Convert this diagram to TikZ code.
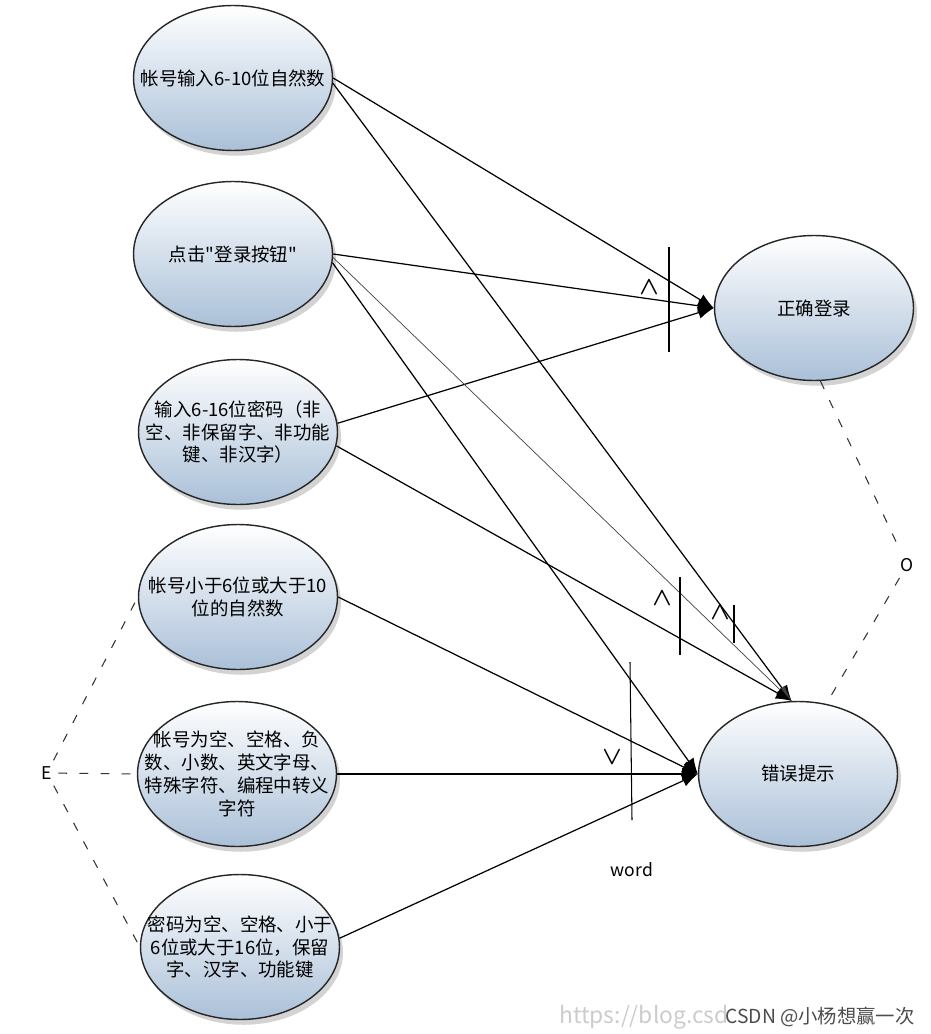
\documentclass[tikz,border=0pt]{standalone}
\usepackage{fontspec}
\setmainfont{Noto Sans CJK SC}
\newfontfamily\cjk{Noto Sans CJK SC}
\usetikzlibrary{shapes.geometric,shadows,arrows.meta}
\definecolor{caseblue}{RGB}{170,192,216}

\tikzset{
    uc case/.style={ellipse, draw=black!85, line width=0.8pt,
                    minimum width=3.98cm, minimum height=2.9cm, inner sep=0pt,
                    top color=white, bottom color=caseblue,
                    drop shadow={opacity=0.35, shadow xshift=2pt, shadow yshift=-3pt}},
    uc text/.style={align=center, font=\cjk\fontsize{10.5}{13}\selectfont},
    uc link/.style={-{Latex[length=9pt,width=7pt]}, line width=0.7pt, black},
    uc thin/.style={uc link, line width=0.4pt, black!75},
    uc dep/.style={dash pattern=on 5pt off 7pt, line width=0.6pt, black!80},
    uc mark/.style={line width=0.6pt},
    uc label/.style={font=\cjk\fontsize{10}{12}\selectfont},
    uc logic/.style={font=\fontsize{14}{16}\selectfont\boldmath},
}

\begin{document}
\begin{tikzpicture}[x=0.02cm, y=-0.02cm]
    \useasboundingbox (0,0) rectangle (930,1034);
    % Use cases, left column
    \node[uc case, label={[uc text]center:帐号输入6-10位自然数}] (e1) at (233,78) {};
    \node[uc case, label={[uc text]center:点击"登录按钮"}] (e2) at (233,254) {};
    \node[uc case, label={[uc text]center:{输入6-16位密码（非\\空、非保留字、非功能\\键、非汉字）}}] (e3) at (238,432) {};
    \node[uc case, label={[uc text]center:{帐号小于6位或大于10\\位的自然数}}] (e4) at (238,597) {};
    \node[uc case, label={[uc text]center:{帐号为空、空格、负\\数、小数、英文字母、\\特殊字符、编程中转义\\字符}}] (e5) at (237,774) {};
    \node[uc case, label={[uc text]center:{密码为空、空格、小于\\6位或大于16位，保留\\字、汉字、功能键}}] (e6) at (240,947) {};
    % Results, right column
    \node[uc case, label={[uc text]center:正确登录}] (ok) at (814,308) {};
    \node[uc case, label={[uc text]center:错误提示}] (err) at (798,774) {};

    % Links into the correct login
    \draw[uc link] (e1.east) -- (ok.west);
    \draw[uc link] (e2.east) -- (ok.west);
    \draw[uc link] (e3.5) -- (ok.west);
    % Links into the error, from above
    \draw[uc link] (e1.-3) -- (err.95);
    \draw[uc thin] (e2.-2) -- (err.95);
    \draw[uc link] (e3.-8) -- (err.95);
    % Links into the error, from the left
    \draw[uc link] (e2.-5) -- (err.west);
    \draw[uc link] (e4.east) -- (err.west);
    \draw[uc link] (e5.east) -- (err.west);
    \draw[uc link] (e6.5) -- (err.west);

    % And / or bars
    \draw[uc mark] (669,247) -- (669,352);
    \node[uc logic] (and1) at (649,287) {$\wedge$};
    \draw[uc mark] (680,577) -- (680,655);
    \node[uc logic] (and2) at (662,598) {$\wedge$};
    \draw[uc mark] (734,605) -- (734,643);
    \node[uc logic] (and3) at (720,612) {$\wedge$};
    \draw[uc mark] (630,662) -- (632,820);
    \node[uc logic] (or1) at (612,757) {$\vee$};
    \node[uc label] (word) at (632,870) {word};

    % Dependencies
    \node[uc label] (lblO) at (907,565) {O};
    \node[uc label] (lblE) at (47,773) {E};
    \draw[uc dep] (ok.-85) -- (lblO);
    \draw[uc dep] (lblO) -- (err.68);
    \draw[uc dep] (lblE) -- (e4.west);
    \draw[uc dep] (lblE) -- (e5.west);
    \draw[uc dep] (lblE) -- (e6.west);

    % Watermark
    \node[anchor=west, text=black!20, font=\cjk\fontsize{13}{15}\selectfont] (url) at (553,1017) {https://blog.csd};
    \node[text=black!70, font=\cjk\fontsize{11}{13}\selectfont] (mark) at (820,1017) {CSDN @小杨想赢一次};
\end{tikzpicture}
\end{document}
